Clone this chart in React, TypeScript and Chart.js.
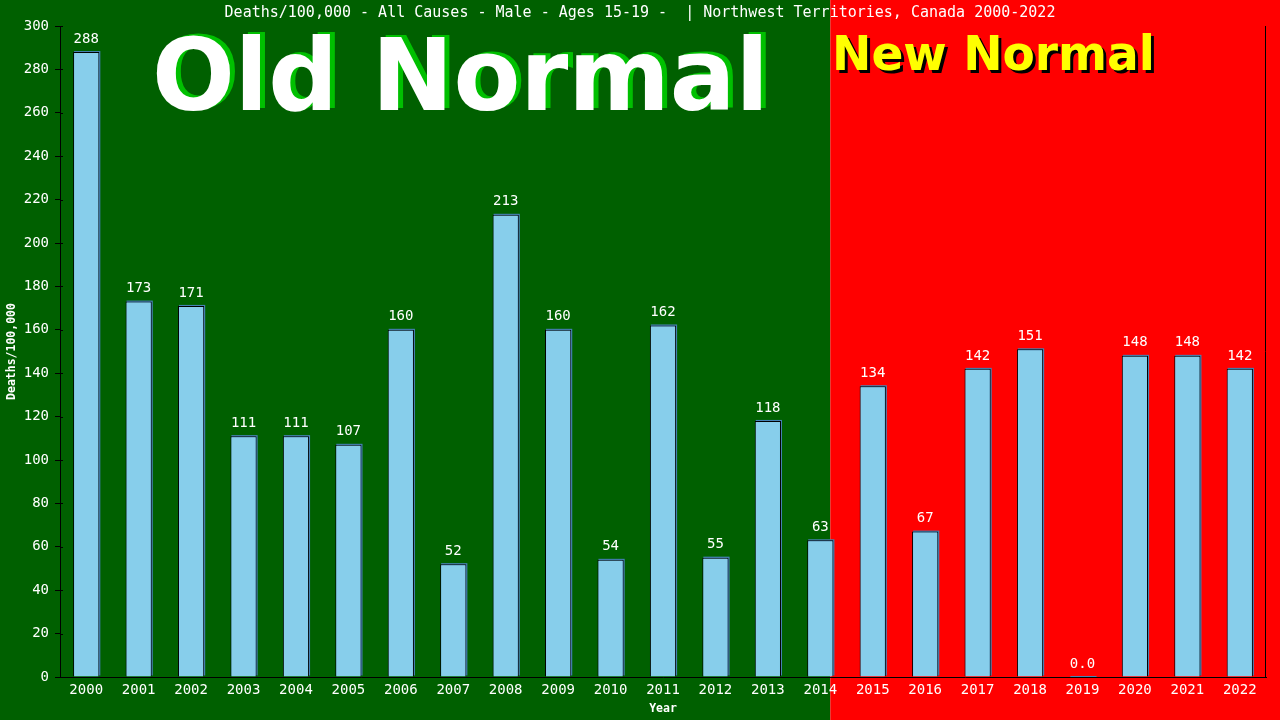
import React, { useEffect, useRef } from "react";
import { Chart, registerables } from "chart.js";

Chart.register(...registerables);

const years = ["2000","2001","2002","2003","2004","2005","2006","2007","2008","2009","2010","2011","2012","2013","2014","2015","2016","2017","2018","2019","2020","2021","2022"];
const deaths = [288,173,171,111,111,107,160,52,213,160,54,162,55,118,63,134,67,142,151,0,148,148,142];
const valueLabels = ["288","173","171","111","111","107","160","52","213","160","54","162","55","118","63","134","67","142","151","0.0","148","148","142"];
const chartTitle = "Deaths/100,000 - All Causes - Male - Ages 15-19 -  | Northwest Territories, Canada 2000-2022";
const yTitle = "Deaths/100,000";
const xTitle = "Year";
const oldLabel = "Old Normal";
const newLabel = "New Normal";
const splitIndex = 14;

const GREEN = "#006000";
const RED = "#ff0000";
const MONO = '"DejaVu Sans Mono", monospace';

const decorPlugin = {
  id: "decor",
  beforeDraw(chart: any) {
    const { ctx, width, height, chartArea } = chart;
    const x = chart.scales.x;
    const split = x.getPixelForValue(splitIndex) + 10;
    ctx.save();
    ctx.fillStyle = GREEN;
    ctx.fillRect(0, 0, split, height);
    ctx.fillStyle = RED;
    ctx.fillRect(split, 0, width - split, height);

    // Old Normal
    ctx.textBaseline = "alphabetic";
    ctx.textAlign = "left";
    ctx.font = 'bold 99px "DejaVu Sans"';
    let w = ctx.measureText(oldLabel).width;
    let sx = (769 - 152) / w;
    ctx.save();
    ctx.translate(152, 110);
    ctx.scale(sx, 1);
    ctx.fillStyle = "#00c000";
    ctx.fillText(oldLabel, 5 / sx, -2);
    ctx.fillStyle = "#ffffff";
    ctx.fillText(oldLabel, 0, 0);
    ctx.restore();

    // New Normal
    ctx.font = 'bold 48px "DejaVu Sans"';
    w = ctx.measureText(newLabel).width;
    sx = (1155 - 832) / w;
    ctx.save();
    ctx.translate(832, 70);
    ctx.scale(sx, 1);
    ctx.fillStyle = "#000000";
    ctx.fillText(newLabel, 3 / sx, 3);
    ctx.fillStyle = "#ffff00";
    ctx.fillText(newLabel, 0, 0);
    ctx.restore();

    // title
    ctx.fillStyle = "#ffffff";
    ctx.font = "15px " + MONO;
    ctx.textAlign = "center";
    ctx.textBaseline = "middle";
    ctx.fillText(chartTitle, 640, 13);

    // axis titles
    ctx.font = "bold 11.5px " + MONO;
    ctx.fillText(xTitle, (chartArea.left + chartArea.right) / 2, 709);
    ctx.save();
    ctx.translate(12, (chartArea.top + chartArea.bottom) / 2);
    ctx.rotate(-Math.PI / 2);
    ctx.fillText(yTitle, 0, 0);
    ctx.restore();
    ctx.restore();
  },
  beforeDatasetsDraw(chart: any) {
    const { ctx } = chart;
    const meta = chart.getDatasetMeta(0);
    ctx.save();
    ctx.fillStyle = "#4682b4";
    meta.data.forEach((el: any) => {
      const { x, y, base, width } = el.getProps(["x", "y", "base", "width"], true);
      const left = x - width / 2;
      ctx.fillRect(left + 1, y - 1, width, Math.max(base - y, 1));
    });
    ctx.restore();
  },
  afterDatasetsDraw(chart: any) {
    const { ctx, chartArea } = chart;
    const meta = chart.getDatasetMeta(0);
    ctx.save();
    ctx.fillStyle = "#ffffff";
    ctx.font = "14px " + MONO;
    ctx.textAlign = "center";
    ctx.textBaseline = "bottom";
    meta.data.forEach((el: any, i: number) => {
      ctx.fillText(valueLabels[i], el.x, el.y - 6);
    });
    // right border
    ctx.strokeStyle = "#000000";
    ctx.lineWidth = 1;
    ctx.beginPath();
    ctx.moveTo(Math.round(chartArea.right) - 0.5, chartArea.top);
    ctx.lineTo(Math.round(chartArea.right) - 0.5, chartArea.bottom);
    ctx.stroke();
    // y inner tick stubs
    const ys = chart.scales.y;
    ctx.beginPath();
    ys.ticks.forEach((t: any) => {
      const py = Math.round(ys.getPixelForValue(t.value)) + 0.5;
      ctx.moveTo(chartArea.left, py);
      ctx.lineTo(chartArea.left + 3, py);
    });
    ctx.stroke();
    ctx.restore();
  },
};

export default function App() {
  const ref = useRef<HTMLCanvasElement>(null);
  useEffect(() => {
    document.body.style.margin = "0";
    const chart = new Chart(ref.current!, {
      type: "bar",
      data: {
        labels: years,
        datasets: [
          {
            data: deaths,
            backgroundColor: "#87ceeb",
            borderColor: "#000000",
            borderWidth: { top: 1, left: 1, right: 1, bottom: 0 },
            borderSkipped: "bottom",
            barPercentage: 0.5,
            categoryPercentage: 1,
          },
        ],
      },
      options: {
        responsive: false,
        devicePixelRatio: 1,
        animation: false,
        layout: { padding: { top: 26, right: 14, left: 0, bottom: 0 } },
        plugins: { legend: { display: false }, title: { display: false }, tooltip: { enabled: false } },
        scales: {
          x: {
            grid: { display: false },
            border: { display: true, color: "#000000", width: 1 },
            ticks: { color: "#ffffff", font: { family: "DejaVu Sans Mono", size: 14 }, padding: -3, maxRotation: 0, autoSkip: false },
            afterFit(scale: any) { scale.height = 43; },
          },
          y: {
            min: 0,
            max: 300,
            ticks: { stepSize: 20, color: "#ffffff", font: { family: "DejaVu Sans Mono", size: 14 }, padding: 6 },
            grid: { drawOnChartArea: false, drawTicks: true, tickLength: 5, color: "#000000" },
            border: { display: true, color: "#000000", width: 1 },
            afterFit(scale: any) { scale.width = 60; },
          },
        },
      },
      plugins: [decorPlugin],
    });
    return () => chart.destroy();
  }, []);
  return <canvas ref={ref} width={1280} height={720} style={{ display: "block" }} />;
}
